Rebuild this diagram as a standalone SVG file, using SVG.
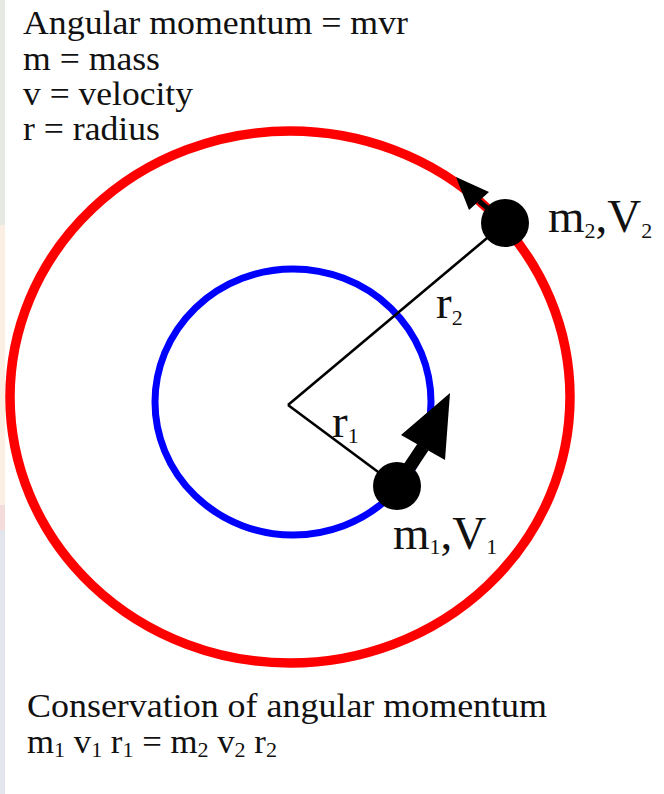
<svg xmlns="http://www.w3.org/2000/svg" width="664" height="794" viewBox="0 0 664 794">
<style>
.t{font-family:"Liberation Serif","Times New Roman",serif;fill:#111;}
.big{font-size:33px;}
.lbl{font-size:47px;}
.sub{font-size:22px;}
.bsub{font-size:21px;}
.orbit{fill:none;}
.rad{stroke:#000;stroke-width:2.6;fill:none;}
</style>
<rect width="664" height="794" fill="#fff"/>
<g id="edge">
<rect x="0" y="0" width="5" height="225" fill="#e6e9e2"/>
<rect x="0" y="225" width="5" height="280" fill="#fbeee3"/>
<rect x="0" y="505" width="5" height="25" fill="#f5dcdc"/>
<rect x="0" y="530" width="5" height="264" fill="#e2e6ec"/>
</g>
<g id="legend">
<text class="t big" x="23" y="34" textLength="385" lengthAdjust="spacingAndGlyphs">Angular momentum = mvr</text>
<text class="t big" x="23" y="70" textLength="137" lengthAdjust="spacingAndGlyphs">m = mass</text>
<text class="t big" x="23" y="105" textLength="170" lengthAdjust="spacingAndGlyphs">v = velocity</text>
<text class="t big" x="23" y="140" textLength="137" lengthAdjust="spacingAndGlyphs">r = radius</text>
</g>
<g id="outer-orbit">
<ellipse class="orbit" cx="290" cy="397" rx="280" ry="266" stroke="#ff0000" stroke-width="9.5"/>
</g>
<g id="inner-orbit">
<ellipse class="orbit" cx="293" cy="402" rx="138" ry="133" stroke="#0000ff" stroke-width="7"/>
</g>
<g id="connectors">
<line class="rad" x1="288" y1="405" x2="505" y2="223"/>
<line class="rad" x1="288" y1="405" x2="397" y2="486"/>
<line x1="505" y1="223" x2="479" y2="201" stroke="#000" stroke-width="5"/>
<polygon points="456,177 489,192 469,210" fill="#000"/>
<line x1="397" y1="486" x2="423" y2="447" stroke="#000" stroke-width="13"/>
<polygon points="450,393 401,435 445,460" fill="#000"/>
</g>
<g id="mass2">
<circle cx="505" cy="223" r="24" fill="#000"/>
<text class="t lbl" x="548" y="232">m<tspan class="sub" dy="6">2</tspan><tspan dy="-6">,V</tspan><tspan class="sub" dy="6">2</tspan></text>
</g>
<g id="mass1">
<circle cx="397" cy="486" r="24" fill="#000"/>
<text class="t lbl" x="393" y="549">m<tspan class="sub" dy="5">1</tspan><tspan dy="-5">,V</tspan><tspan class="sub" dy="5">1</tspan></text>
</g>
<g id="radius-labels">
<text class="t lbl" x="436" y="318">r<tspan class="sub" dy="7">2</tspan></text>
<text class="t lbl" x="332" y="437">r<tspan class="sub" dy="6">1</tspan></text>
</g>
<g id="conservation">
<text class="t big" x="27" y="717" textLength="520" lengthAdjust="spacingAndGlyphs">Conservation of angular momentum</text>
<text class="t big" x="27" y="753" textLength="250" lengthAdjust="spacingAndGlyphs">m<tspan class="bsub" dy="4">1</tspan><tspan dy="-4"> v</tspan><tspan class="bsub" dy="4">1</tspan><tspan dy="-4"> r</tspan><tspan class="bsub" dy="4">1</tspan><tspan dy="-4"> = m</tspan><tspan class="bsub" dy="4">2</tspan><tspan dy="-4"> v</tspan><tspan class="bsub" dy="4">2</tspan><tspan dy="-4"> r</tspan><tspan class="bsub" dy="4">2</tspan></text>
</g>
</svg>
